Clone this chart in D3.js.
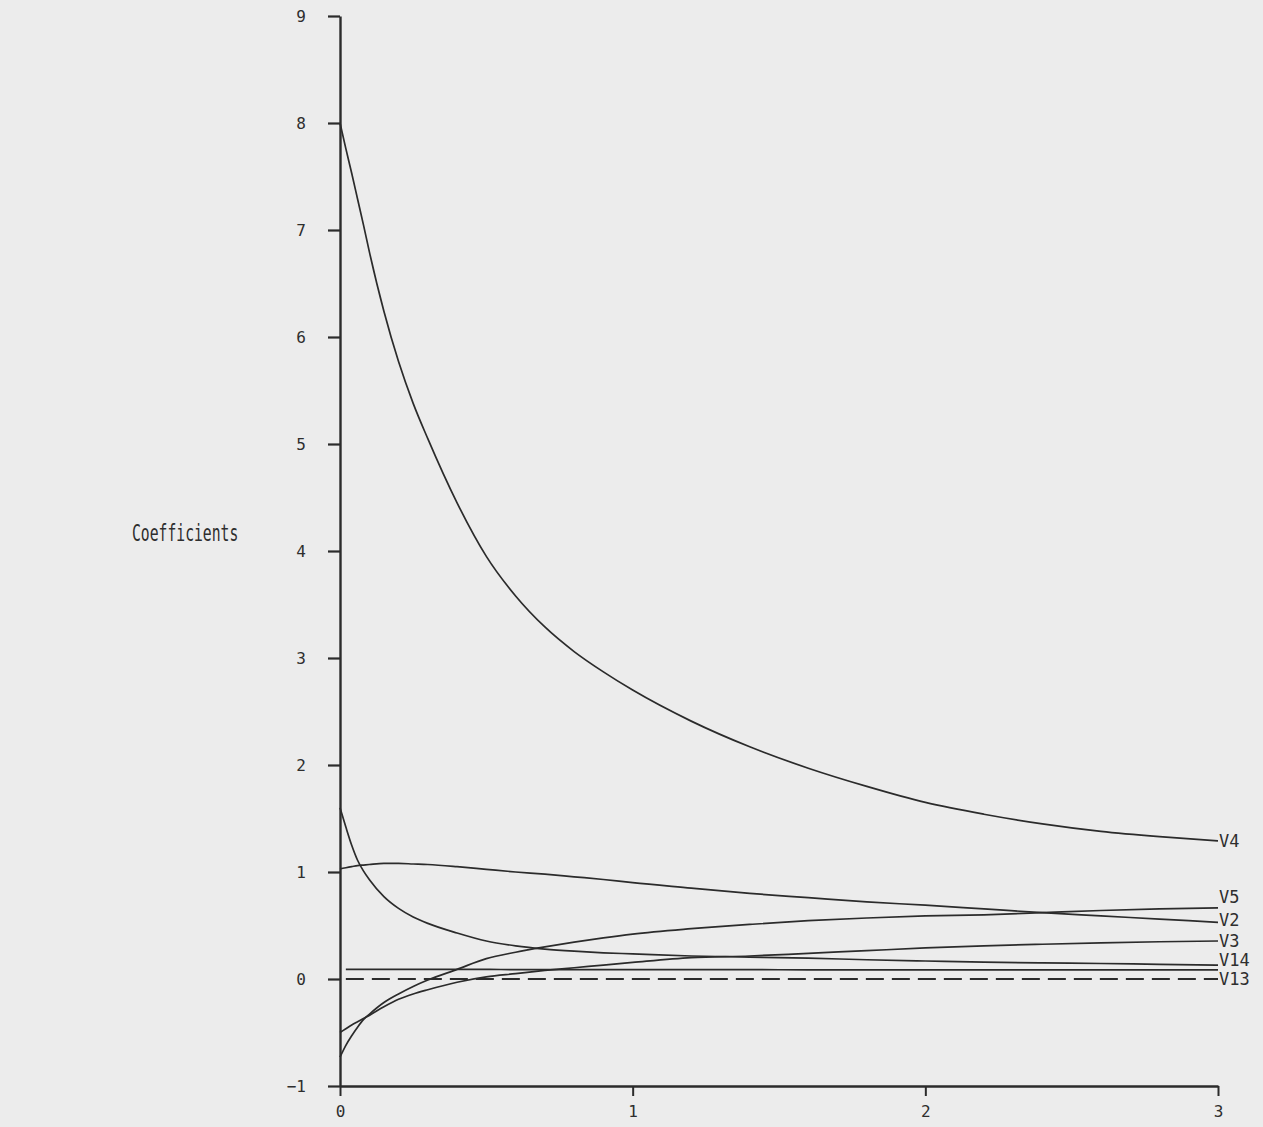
<!DOCTYPE html>
<html>
<head>
<meta charset="utf-8">
<script src="https://cdn.jsdelivr.net/npm/d3@7"></script>
<style>
  html, body { margin: 0; padding: 0; background: #ececec; }
  svg { display: block; }
  text { font-family: "DejaVu Sans Mono", "Liberation Mono", monospace; fill: #2e2e2e; }
</style>
</head>
<body>
<svg id="chart" width="1263" height="1127"></svg>
<script>
// ---- data ----
const lambda = [0, 0.02, 0.04, 0.06, 0.08, 0.1, 0.15, 0.2, 0.25, 0.3, 0.4, 0.5, 0.6, 0.7, 0.8, 0.9, 1.0, 1.2, 1.4, 1.6, 1.8, 2.0, 2.2, 2.4, 2.6, 2.8, 3.0];
const V4  = [8.0, 7.76, 7.53, 7.29, 7.05, 6.80, 6.24, 5.77, 5.38, 5.05, 4.45, 3.95, 3.58, 3.29, 3.06, 2.87, 2.70, 2.41, 2.17, 1.97, 1.80, 1.65, 1.54, 1.45, 1.38, 1.33, 1.29];
const V5  = [-0.73, -0.62, -0.53, -0.45, -0.38, -0.33, -0.22, -0.14, -0.07, -0.01, 0.09, 0.19, 0.25, 0.30, 0.345, 0.385, 0.42, 0.47, 0.51, 0.545, 0.57, 0.59, 0.60, 0.62, 0.64, 0.655, 0.665];
const V2  = [1.03, 1.04, 1.05, 1.06, 1.065, 1.07, 1.08, 1.08, 1.075, 1.07, 1.05, 1.025, 1.00, 0.98, 0.955, 0.93, 0.90, 0.85, 0.80, 0.76, 0.72, 0.69, 0.655, 0.62, 0.59, 0.56, 0.53];
const V3  = [-0.50, -0.465, -0.43, -0.40, -0.37, -0.34, -0.26, -0.19, -0.14, -0.10, -0.03, 0.02, 0.05, 0.08, 0.105, 0.13, 0.155, 0.20, 0.215, 0.24, 0.265, 0.29, 0.31, 0.325, 0.338, 0.348, 0.355];
const V14 = [1.60, 1.42, 1.25, 1.11, 1.01, 0.93, 0.77, 0.66, 0.58, 0.52, 0.43, 0.355, 0.31, 0.28, 0.26, 0.245, 0.235, 0.215, 0.205, 0.195, 0.18, 0.168, 0.157, 0.15, 0.145, 0.137, 0.13];
const Vflat = [null, 0.09, 0.09, 0.09, 0.09, 0.09, 0.09, 0.09, 0.09, 0.09, 0.09, 0.09, 0.088, 0.088, 0.088, 0.088, 0.087, 0.087, 0.087, 0.086, 0.086, 0.086, 0.086, 0.085, 0.085, 0.085, 0.085];
const V13 = [null, 0, 0, 0, 0, 0, 0, 0, 0, 0, 0, 0, 0, 0, 0, 0, 0, 0, 0, 0, 0, 0, 0, 0, 0, 0, 0];

const seriesNames = ["V4", "V5", "V2", "V3", "V14", "", "V13"];
const seriesValues = [V4, V5, V2, V3, V14, Vflat, V13];
const dashedSeries = ["V13"];

const xTicks = [0, 1, 2, 3];
const yTicks = [-1, 0, 1, 2, 3, 4, 5, 6, 7, 8, 9];
const yTitle = "Coefficients";

// ---- layout / style ----
const labelDy = { "V4": 0, "V5": -11, "V2": -2, "V3": 0, "V14": -5, "V13": 0 };
const ink = "#2b2b2b";

const svg = d3.select("#chart");
svg.append("rect").attr("width", 1263).attr("height", 1127).attr("fill", "#ececec");

const x = d3.scaleLinear().domain([0, 3]).range([340, 1218]);
const y = d3.scaleLinear().domain([-1, 9]).range([1086, 16]);

// y axis
const yAxis = d3.axisLeft(y).tickValues(yTicks).tickSize(12).tickSizeOuter(0).tickPadding(22).tickFormat(d3.format("d"));
const gy = svg.append("g").attr("transform", `translate(${x(0)},0)`).call(yAxis);
gy.select(".domain").attr("stroke", ink).attr("stroke-width", 2.4);
gy.selectAll(".tick line").attr("stroke", ink).attr("stroke-width", 2.2);
gy.selectAll(".tick text").attr("font-size", 16).attr("fill", ink)
  .attr("font-family", "DejaVu Sans Mono, monospace");

// x axis
const xAxis = d3.axisBottom(x).tickValues(xTicks).tickSize(10).tickSizeOuter(0).tickPadding(10).tickFormat(d3.format("d"));
const gx = svg.append("g").attr("transform", `translate(0,${y(-1)})`).call(xAxis);
gx.select(".domain").attr("stroke", ink).attr("stroke-width", 2.4);
gx.selectAll(".tick line").attr("stroke", ink).attr("stroke-width", 2);
gx.selectAll(".tick text").attr("font-size", 16).attr("fill", ink)
  .attr("font-family", "DejaVu Sans Mono, monospace");

// y title (narrow, tall lettering like the plotter font)
svg.append("text")
  .attr("transform", "translate(132,541) scale(0.64,1)")
  .attr("font-size", 23)
  .attr("fill", ink)
  .text(yTitle);

// lines
const line = d3.line()
  .defined(d => d.v !== null)
  .x(d => x(d.t))
  .y(d => y(d.v))
  .curve(d3.curveMonotoneX);

seriesNames.forEach((name, i) => {
  const pts = lambda.map((t, j) => ({ t: t, v: seriesValues[i][j] }));
  svg.append("path")
    .datum(pts)
    .attr("fill", "none")
    .attr("stroke", ink)
    .attr("stroke-width", dashedSeries.includes(name) ? 2 : 1.7)
    .attr("stroke-dasharray", dashedSeries.includes(name) ? "18,8" : null)
    .attr("d", line);
  if (name) {
    const last = pts[pts.length - 1];
    svg.append("text")
      .attr("x", x(last.t) + 1)
      .attr("y", y(last.v) + labelDy[name])
      .attr("dy", "0.35em")
      .attr("font-size", 17)
      .attr("fill", ink)
      .text(name);
  }
});
</script>
</body>
</html>
